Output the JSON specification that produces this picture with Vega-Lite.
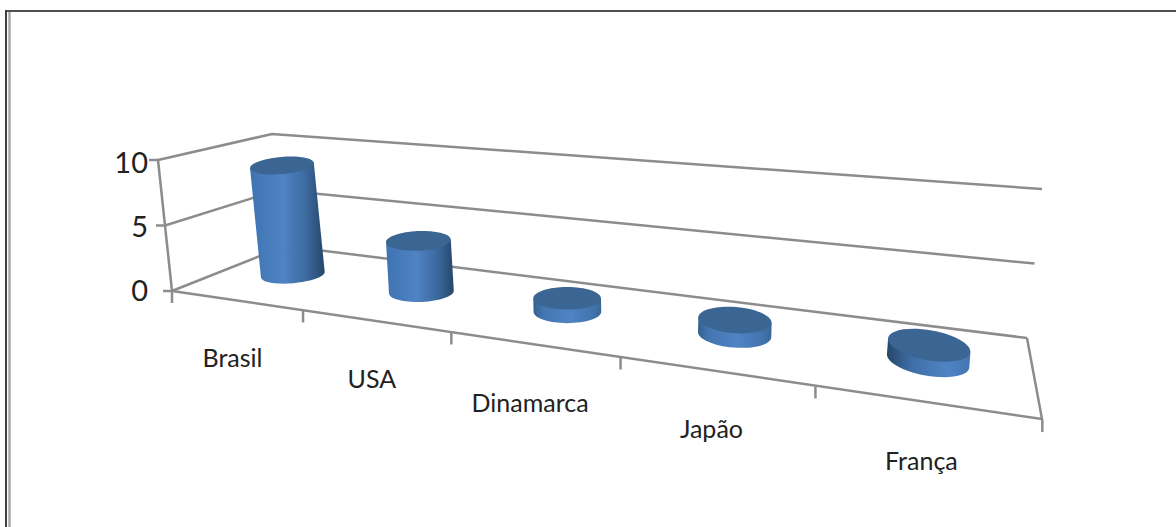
{
  "$schema": "https://vega.github.io/schema/vega-lite/v6.json",
  "width": 1176,
  "height": 527,
  "padding": 0,
  "autosize": {"type": "none"},
  "background": "#ffffff",
  "config": {"view": {"stroke": null}},
  "datasets": {
    "paises": [
      {"pais": "Brasil", "valor": 9, "ordem": 0},
      {"pais": "USA", "valor": 4, "ordem": 1},
      {"pais": "Dinamarca", "valor": 1, "ordem": 2},
      {"pais": "Japão", "valor": 1, "ordem": 3},
      {"pais": "França", "valor": 1, "ordem": 4}
    ],
    "niveis": [{"nivel": 0}, {"nivel": 5}, {"nivel": 10}],
    "divisoes": [{"ordem": 0}, {"ordem": 1}, {"ordem": 2}, {"ordem": 3}, {"ordem": 4}, {"ordem": 5}],
    "arestas": [
      {"linha": "grade 10", "passo": 0, "canto": 0, "nivel": 10},
      {"linha": "grade 10", "passo": 1, "canto": 1, "nivel": 10},
      {"linha": "grade 10", "passo": 2, "canto": 2, "nivel": 10},
      {"linha": "grade 5", "passo": 0, "canto": 0, "nivel": 5},
      {"linha": "grade 5", "passo": 1, "canto": 1, "nivel": 5},
      {"linha": "grade 5", "passo": 2, "canto": 2, "nivel": 5},
      {"linha": "grade 0", "passo": 0, "canto": 0, "nivel": 0},
      {"linha": "grade 0", "passo": 1, "canto": 1, "nivel": 0},
      {"linha": "grade 0", "passo": 2, "canto": 2, "nivel": 0},
      {"linha": "eixo", "passo": 0, "canto": 0, "nivel": 0},
      {"linha": "eixo", "passo": 1, "canto": 0, "nivel": 10},
      {"linha": "chao", "passo": 0, "canto": 0, "nivel": 0},
      {"linha": "chao", "passo": 1, "canto": 3, "nivel": 0},
      {"linha": "chao", "passo": 2, "canto": 2, "nivel": 0}
    ]
  },
  "encoding": {
    "x": {"field": "x", "type": "quantitative", "axis": null, "scale": {"domain": [0, 1176], "nice": false, "zero": false}},
    "y": {"field": "y", "type": "quantitative", "axis": null, "scale": {"domain": [527, 0], "nice": false, "zero": false}}
  },
  "layer": [
    {
      "data": {"name": "arestas"},
      "transform": [
        {"calculate": "[172, 285, 1027, 1042][datum.canto] + [-14, -13, 15, 0][datum.canto] * datum.nivel / 10", "as": "x"},
        {"calculate": "[291, 246, 338, 419][datum.canto] - [131, 112, 149, 0][datum.canto] * datum.nivel / 10", "as": "y"}
      ],
      "mark": {"type": "line", "stroke": "#8c8c8c", "strokeWidth": 2.5, "interpolate": "linear"},
      "encoding": {
        "detail": {"field": "linha"},
        "order": {"field": "passo", "type": "quantitative"}
      }
    },
    {
      "data": {"name": "niveis"},
      "transform": [
        {"calculate": "172 - 14 * datum.nivel / 10", "as": "x"},
        {"calculate": "datum.x - 9", "as": "x2"},
        {"calculate": "291 - 131 * datum.nivel / 10", "as": "y"}
      ],
      "mark": {"type": "rule", "stroke": "#8c8c8c", "strokeWidth": 2.5},
      "encoding": {"x2": {"field": "x2"}}
    },
    {
      "data": {"name": "divisoes"},
      "transform": [
        {"calculate": "(172 + 113.4 * datum.ordem) / (1 - 0.0582 * datum.ordem)", "as": "x"},
        {"calculate": "291 + (datum.x - 172) * 0.1483", "as": "y"},
        {"calculate": "datum.y + 12", "as": "y2"}
      ],
      "mark": {"type": "rule", "stroke": "#8c8c8c", "strokeWidth": 2.5},
      "encoding": {"y2": {"field": "y2"}}
    },
    {
      "data": {"name": "paises"},
      "transform": [
        {"calculate": "datum.ordem + 0.5", "as": "u"},
        {"calculate": "1 / (1 - 0.0582 * datum.u)", "as": "w"},
        {"calculate": "(172 + 113.4 * datum.u) * datum.w", "as": "xf"},
        {"calculate": "291 + (datum.xf - 172) * 0.1483", "as": "yf"},
        {"calculate": "(285 + 88.6 * datum.u) * datum.w", "as": "xb"},
        {"calculate": "246 + (datum.xb - 285) * 0.124", "as": "yb"},
        {"calculate": "datum.xf + (datum.xb - datum.xf) * 0.55 + 0.6 * datum.u", "as": "x"},
        {"calculate": "datum.yf + (datum.yb - datum.yf) * 0.55 + 0.5", "as": "y"},
        {"calculate": "(datum.x - 630) * 0.036 * datum.valor / 10", "as": "dx"},
        {"calculate": "-(121 + (datum.x - 287) * 0.052) * datum.valor / 10", "as": "dy"},
        {"calculate": "32 + 0.000024 * pow(datum.x - 290, 2)", "as": "rx"},
        {"calculate": "8.5 + (datum.y - 274) * 0.075", "as": "ry"},
        {"calculate": "(datum.x - 568) * (datum.x < 568 ? 0.018 : 0.028)", "as": "giro"},
        {"calculate": "datum.rx * cos(datum.giro * PI / 180)", "as": "ax"},
        {"calculate": "datum.rx * sin(datum.giro * PI / 180)", "as": "ay"},
        {"calculate": "' A ' + datum.rx + ' ' + datum.ry + ' ' + datum.giro + ' 0 0 '", "as": "arco"},
        {"calculate": "'M ' + (datum.dx - datum.ax) + ' ' + (datum.dy - datum.ay) + ' L ' + (-datum.ax) + ' ' + (-datum.ay) + datum.arco + datum.ax + ' ' + datum.ay + ' L ' + (datum.dx + datum.ax) + ' ' + (datum.dy + datum.ay) + ' Z'", "as": "corpo"},
        {"calculate": "'M ' + (datum.dx - datum.ax) + ' ' + (datum.dy - datum.ay) + datum.arco + (datum.dx + datum.ax) + ' ' + (datum.dy + datum.ay) + datum.arco + (datum.dx - datum.ax) + ' ' + (datum.dy - datum.ay) + ' Z'", "as": "tampa"}
      ],
      "layer": [
        {
          "mark": {"type": "point", "filled": true, "size": 4, "opacity": 1, "strokeWidth": 0},
          "encoding": {
            "shape": {"field": "corpo", "type": "nominal", "scale": null, "legend": null},
            "fill": {
              "condition": [
                {
                  "test": "datum.ordem < 2",
                  "value": {"gradient": "linear", "x1": 0, "y1": 0, "x2": 1, "y2": 0, "stops": [
                    {"offset": 0, "color": "#3f74b3"},
                    {"offset": 0.45, "color": "#4f83c3"},
                    {"offset": 0.75, "color": "#3c6a9f"},
                    {"offset": 1, "color": "#264668"}
                  ]}
                },
                {
                  "test": "datum.ordem < 4",
                  "value": {"gradient": "linear", "x1": 0, "y1": 0, "x2": 1, "y2": 0, "stops": [
                    {"offset": 0, "color": "#36618f"},
                    {"offset": 0.15, "color": "#4376b2"},
                    {"offset": 0.55, "color": "#4f83c3"},
                    {"offset": 0.9, "color": "#4072aa"},
                    {"offset": 1, "color": "#3a6695"}
                  ]}
                }
              ],
              "value": {"gradient": "linear", "x1": 0, "y1": 0, "x2": 1, "y2": 0, "stops": [
                {"offset": 0, "color": "#264668"},
                {"offset": 0.3, "color": "#3f6fa8"},
                {"offset": 0.72, "color": "#4f83c3"},
                {"offset": 1, "color": "#4376b2"}
              ]}
            }
          }
        },
        {
          "mark": {"type": "point", "filled": true, "size": 4, "opacity": 1, "strokeWidth": 0, "fill": "#3b6593"},
          "encoding": {
            "shape": {"field": "tampa", "type": "nominal", "scale": null, "legend": null}
          }
        },
        {
          "transform": [
            {"calculate": "datum.xf - 3", "as": "xr"},
            {"calculate": "datum.yf + 59", "as": "yr"}
          ],
          "mark": {"type": "text", "font": "Lato", "fontSize": 25, "fill": "#222222", "align": "center", "baseline": "middle"},
          "encoding": {
            "x": {"field": "xr", "type": "quantitative"},
            "y": {"field": "yr", "type": "quantitative"},
            "text": {"field": "pais"}
          }
        }
      ]
    },
    {
      "data": {"name": "niveis"},
      "transform": [
        {"calculate": "148", "as": "x"},
        {"calculate": "291 - 128 * datum.nivel / 10 + 1", "as": "y"}
      ],
      "mark": {"type": "text", "font": "Lato", "fontSize": 29, "fill": "#222222", "align": "right", "baseline": "middle"},
      "encoding": {
        "text": {"field": "nivel", "type": "quantitative"}
      }
    },
    {
      "data": {"values": [{"borda": "topo"}]},
      "transform": [
        {"calculate": "5", "as": "x"},
        {"calculate": "1176", "as": "x2"},
        {"calculate": "11", "as": "y"}
      ],
      "mark": {"type": "rule", "stroke": "#505050", "strokeWidth": 2},
      "encoding": {"x2": {"field": "x2"}}
    },
    {
      "data": {"values": [{"borda": "externa"}]},
      "transform": [
        {"calculate": "6", "as": "x"},
        {"calculate": "10", "as": "y"},
        {"calculate": "527", "as": "y2"}
      ],
      "mark": {"type": "rule", "stroke": "#404040", "strokeWidth": 2},
      "encoding": {"y2": {"field": "y2"}}
    },
    {
      "data": {"values": [{"borda": "interna"}]},
      "transform": [
        {"calculate": "9.5", "as": "x"},
        {"calculate": "12", "as": "y"},
        {"calculate": "527", "as": "y2"}
      ],
      "mark": {"type": "rule", "stroke": "#a8a8a8", "strokeWidth": 2.5},
      "encoding": {"y2": {"field": "y2"}}
    }
  ]
}
